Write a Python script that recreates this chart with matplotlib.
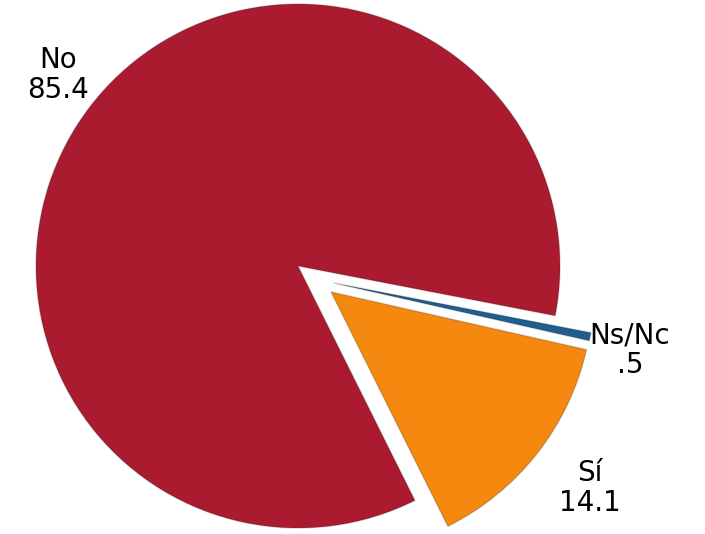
import numpy as np
import matplotlib.pyplot as plt

# datos
categorias = ["No", "Ns/Nc", "Sí"]
valores = [85.4, 0.5, 14.1]
etiquetas = ["85.4", ".5", "14.1"]
colores = ["#ab1b30", "#1f5f8e", "#f5890f"]
separacion = [0, 0.15, 0.16]

fig = plt.figure(figsize=(7.05, 5.34), dpi=100)
ax = fig.add_axes([0, 0, 1, 1])

# pie: centro en (298, 266) px, radio 262 px
wedges, _ = ax.pie(valores, colors=colores, explode=separacion,
                   startangle=296.5, counterclock=False, radius=1,
                   wedgeprops=dict(linewidth=1, edgecolor="#00000030"))

# la porción Ns/Nc queda pegada a la de Sí (a medio camino)
c_ns = np.array(wedges[1].center)
c_si = np.array(wedges[2].center)
wedges[1].set_center(tuple((c_ns + c_si) / 2))

# posiciones de las etiquetas (en unidades del radio)
pos_etiquetas = [(-0.916, 0.729), (1.267, -0.321), (1.115, -0.847)]
for cat, et, (x, y) in zip(categorias, etiquetas, pos_etiquetas):
    ax.text(x, y, cat + "\n" + et, ha="center", va="center",
            fontsize=20, color="black", linespacing=1.1,
            family="DejaVu Sans")

px, cx, cy = 262, 298, 266
ax.set_xlim(-cx / px, (705 - cx) / px)
ax.set_ylim(-(534 - cy) / px, cy / px)
ax.set_aspect("auto")
ax.axis("off")

fig.savefig("out.png", dpi=100)
